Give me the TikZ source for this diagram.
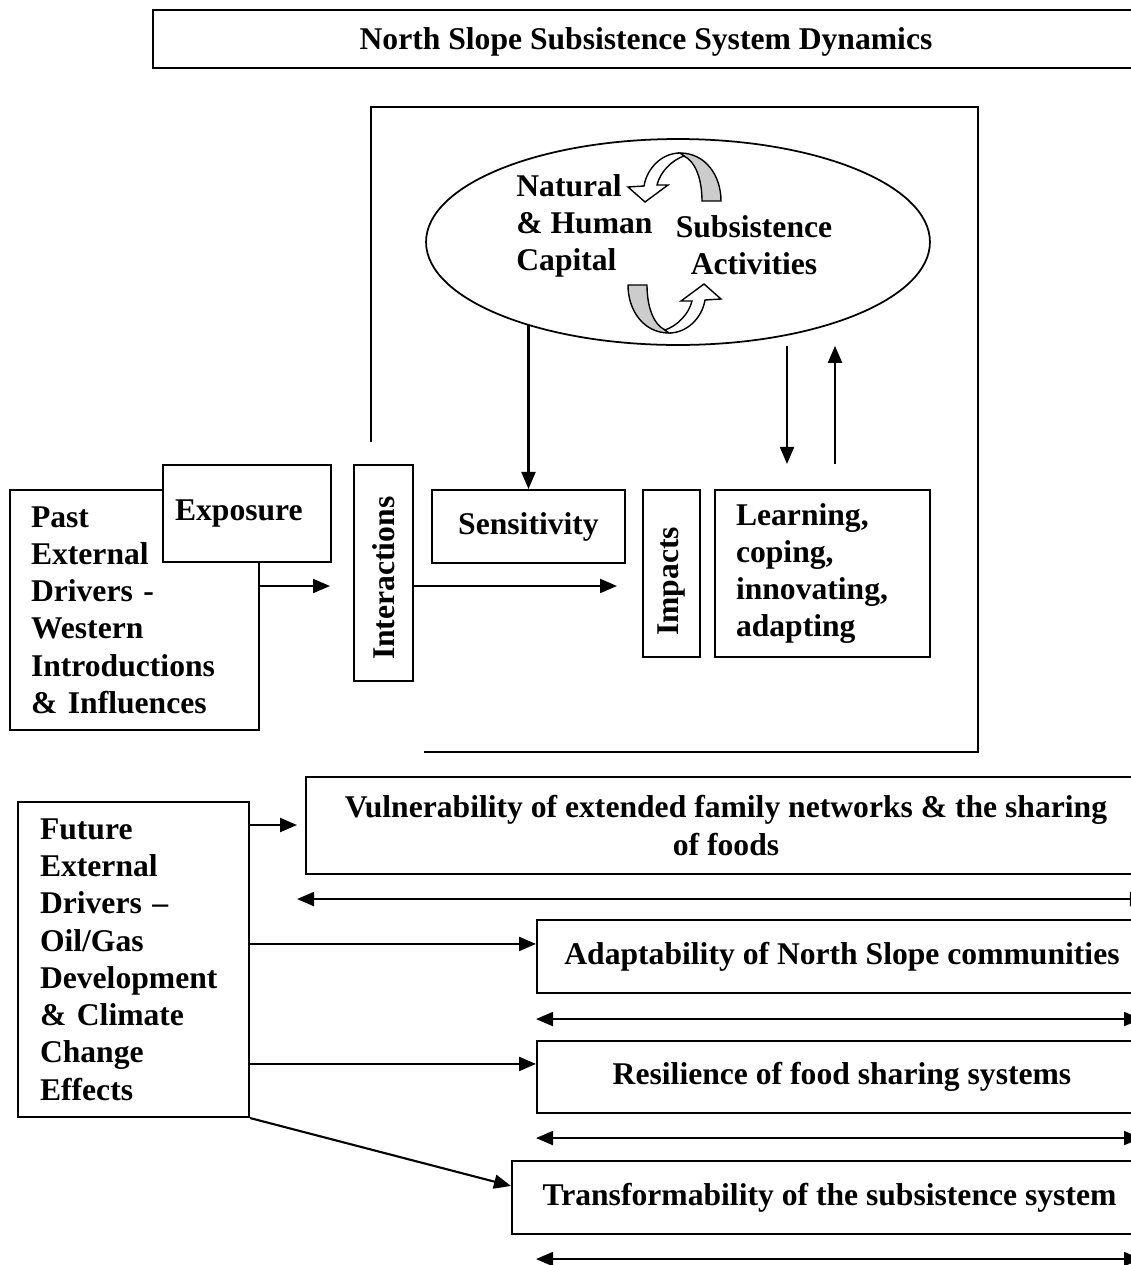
\documentclass[tikz,border=0pt]{standalone}
\usepackage{fontspec}
\setmainfont{Liberation Serif}
\usetikzlibrary{arrows.meta,shapes.geometric}

\begin{document}
\begin{tikzpicture}[
      x=0.02cm, y=-0.02cm,
      box/.style={rectangle, draw=black, line width=1.2pt, fill=white,
                  inner sep=0pt, font=\bfseries\fontsize{18}{21.2}\selectfont},
      txtbox/.style={box, align=left, inner xsep=0.42cm},
      upbox/.style={box, rotate=90, align=left, inner xsep=0.42cm},
      lbl/.style={inner sep=0pt, font=\bfseries\fontsize{18}{21.2}\selectfont},
      arr/.style={-{Triangle[length=0.34cm, width=0.28cm]}, line width=1.2pt},
      dbl/.style={{Triangle[length=0.34cm, width=0.28cm]}-{Triangle[length=0.34cm, width=0.28cm]},
                  line width=1.2pt},
      turn/.pic={
        \filldraw[fill=gray!40, line width=0.8pt] (5.5,-90) .. controls (30.5,-90) and (46.5,-68) .. (46.5,-42)
          -- (27.5,-42) .. controls (27.5,-63) and (21.5,-81) .. (9.5,-87) -- cycle;
        \filldraw[fill=white, line width=0.8pt] (5.5,-90) .. controls (-12.5,-90) and (-27.5,-75) .. (-30.5,-57)
          -- (-46.5,-56) -- (-29.5,-41) -- (-6.5,-58) -- (-17.5,-58)
          .. controls (-14.5,-71) and (-2.5,-83) .. (9.5,-87) -- cycle;
      }
    ]
    \useasboundingbox (0,0) rectangle (1131,1265);
    \node[box, minimum width=19.72cm, minimum height=1.16cm, text depth=-0.1cm] (title) at (646,39) {North Slope Subsistence System Dynamics};
    \draw[line width=1.2pt] (371,442) -- (371,107) -- (978,107) -- (978,752) -- (424,752);
    \node[ellipse, draw, line width=1pt, minimum width=10.08cm, minimum height=4.12cm] (core) at (678,242) {};
    \pic at (674.5,243) {turn};
    \pic[rotate=180] at (674.5,243) {turn};
    \node[lbl, align=left, anchor=west] (natcap) at (516,226) {Natural\\\& Human\\Capital};
    \node[lbl, align=center] (subact) at (754,245) {Subsistence\\Activities};
    \node[txtbox, text width=4.14cm, minimum height=4.8cm] (past) at (134.5,610) {Past\\External\\Drivers -\\Western\\Introductions\\\& Influences};
    \node[txtbox, text width=2.88cm, inner xsep=0.24cm, minimum height=1.94cm] (expo) at (247,513.5) {Exposure};
    \node[upbox, text width=3.48cm, minimum height=1.18cm] (inter) at (383.5,573) {Interactions};
    \node[box, minimum width=3.86cm, minimum height=1.46cm] (sens) at (528.5,526.5) {Sensitivity};
    \node[upbox, text width=2.5cm, minimum height=1.14cm] (imp) at (671.5,573.5) {Impacts};
    \node[txtbox, text width=3.46cm, minimum height=3.34cm] (learn) at (822.5,573.5) {Learning,\\coping,\\innovating,\\adapting};
    \node[txtbox, text width=3.74cm, inner xsep=0.44cm, minimum height=6.3cm] (fut) at (133.5,959.5) {Future\\External\\Drivers –\\Oil/Gas\\Development\\\& Climate\\Change\\Effects};
    \node[box, align=center, minimum width=16.8cm, minimum height=1.94cm] (vul) at (726,825.5) {Vulnerability of extended family networks \& the sharing\\of foods};
    \node[box, minimum width=12.2cm, minimum height=1.46cm] (adapt) at (842,956.5) {Adaptability of North Slope communities};
    \node[box, minimum width=12.2cm, minimum height=1.44cm] (res) at (842,1077) {Resilience of food sharing systems};
    \node[box, minimum width=12.7cm, minimum height=1.46cm] (trans) at (829.5,1197.5) {Transformability of the subsistence system};
    \coordinate (expEnd) at (330,586);
    \coordinate (intEnd) at (617,586);
    \coordinate (lrnA) at ([xshift=-0.71cm, yshift=0.5cm]learn.north);
    \coordinate (lrnB) at ([xshift=0.25cm, yshift=0.5cm]learn.north);
    \coordinate (vulIn) at (297,825);
    \coordinate (adIn) at ([yshift=-0.5cm]adapt.north west);
    \coordinate (resIn) at ([yshift=-0.48cm]res.north west);
    \coordinate (trIn) at ([yshift=-0.52cm]trans.north west);
    \draw[arr] (past.east |- expEnd) -- (expEnd);
    \draw[arr] (inter.south |- intEnd) -- (intEnd);
    \draw[arr] (sens.north |- core.209) -- (sens.north);
    \draw[arr] (lrnA |- core.south) -- (lrnA);
    \draw[arr] (lrnB) -- (lrnB |- core.south);
    \draw[arr] (fut.east |- vulIn) -- (vulIn);
    \draw[arr] (fut.east |- adIn) -- (adIn);
    \draw[arr] (fut.east |- resIn) -- (resIn);
    \draw[arr] (fut.south east) -- (trIn);
    \draw[dbl] ([xshift=-0.16cm, yshift=-0.48cm]vul.south west) -- ([yshift=-0.48cm]vul.south east);
    \draw[dbl] ([yshift=-0.5cm]adapt.south west) -- ([xshift=-0.14cm, yshift=-0.5cm]adapt.south east);
    \draw[dbl] ([yshift=-0.48cm]res.south west) -- ([xshift=-0.14cm, yshift=-0.48cm]res.south east);
    \draw[dbl] ([xshift=0.5cm, yshift=-0.48cm]trans.south west) -- ([xshift=-0.14cm, yshift=-0.48cm]trans.south east);
  \end{tikzpicture}
\end{document}
